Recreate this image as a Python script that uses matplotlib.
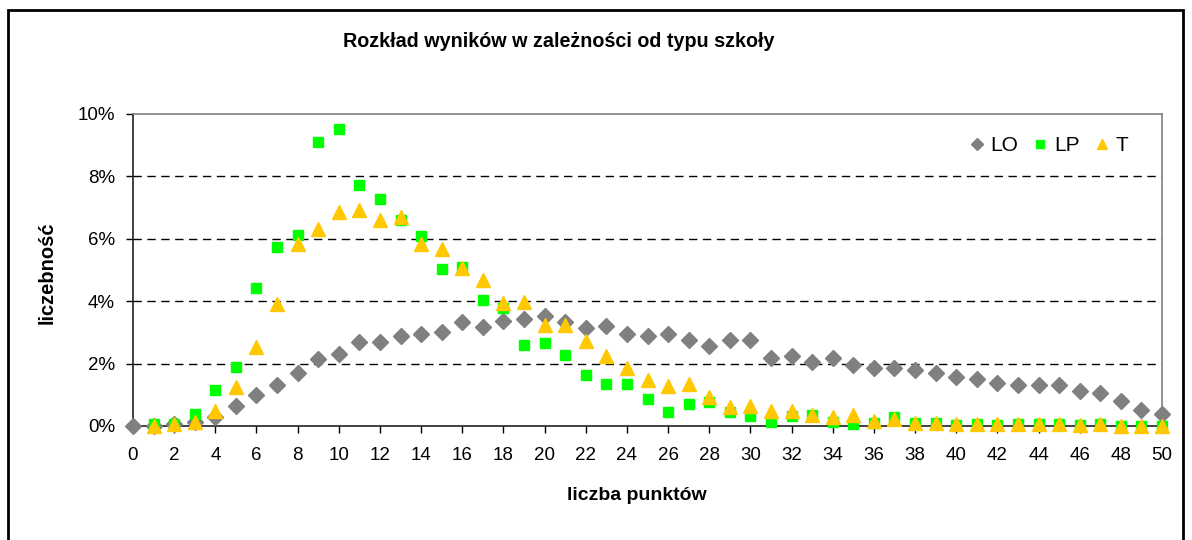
import matplotlib.pyplot as plt
from matplotlib.patches import Rectangle
from matplotlib.ticker import FuncFormatter
import numpy as np

plt.rcParams['font.family'] = ['Liberation Sans', 'DejaVu Sans']

# punkty 0..50, wartosci w %
pkt = list(range(0, 51))
LO = [0.0, 0.0, 0.05, 0.14, 0.30, 0.64, 1.00, 1.31, 1.69, 2.14, 2.31,
      2.70, 2.68, 2.87, 2.94, 3.00, 3.32, 3.18, 3.37, 3.44, 3.53,
      3.34, 3.13, 3.19, 2.94, 2.88, 2.94, 2.75, 2.56, 2.75, 2.75,
      2.19, 2.25, 2.06, 2.19, 1.94, 1.87, 1.87, 1.79, 1.69, 1.58,
      1.50, 1.37, 1.30, 1.33, 1.31, 1.12, 1.07, 0.81, 0.51, 0.38]
pkt_lp = list(range(1, 51))
LP = [0.06, 0.08, 0.40, 1.15, 1.90, 4.41, 5.73, 6.12, 9.10, 9.52,
      7.72, 7.27, 6.60, 6.09, 5.03, 5.10, 4.03, 3.78, 2.60, 2.65,
      2.27, 1.65, 1.35, 1.35, 0.85, 0.46, 0.72, 0.78, 0.46, 0.32,
      0.14, 0.33, 0.35, 0.14, 0.06, 0.10, 0.30, 0.10, 0.10, 0.03,
      0.08, 0.03, 0.08, 0.06, 0.05, 0.03, 0.05, 0.0, 0.0, 0.0]
T = [0.0, 0.05, 0.13, 0.49, 1.24, 2.54, 3.90, 5.82, 6.30, 6.87,
     6.92, 6.60, 6.70, 5.83, 5.66, 5.05, 4.68, 3.93, 3.97, 3.24,
     3.24, 2.73, 2.23, 1.85, 1.47, 1.28, 1.35, 0.92, 0.60, 0.65,
     0.48, 0.48, 0.35, 0.28, 0.35, 0.17, 0.23, 0.10, 0.10, 0.07,
     0.05, 0.05, 0.08, 0.06, 0.05, 0.02, 0.05, 0.0, 0.0, 0.0]

fig = plt.figure(figsize=(11.92, 5.40), dpi=100)
ax = fig.add_axes([133/1192, 1-426/540, (1162-133)/1192, (426-114)/540])

ax.plot(pkt, np.array(LO)/100, 'D', color='#808080', ms=8, mec='#808080', label='LO', clip_on=False, zorder=3)
ax.plot(pkt_lp, np.array(LP)/100, 's', color='#00FF00', ms=7.5, mec='#00FF00', label='LP', clip_on=False, zorder=4)
ax.plot(pkt_lp, np.array(T)/100, '^', color='#FFC800', ms=9.5, mec='#FFC800', label='T', clip_on=False, zorder=5)

ax.set_xlim(0, 50)
ax.set_ylim(0, 0.10)
ax.set_xticks(range(0, 51, 2))
ax.set_yticks(np.arange(0, 0.101, 0.02))
ax.yaxis.set_major_formatter(FuncFormatter(lambda v, p: '%d%%' % round(v*100)))
ax.tick_params(labelsize=13.5, direction='out', length=5, width=1, color='black')
ax.tick_params(axis='x', pad=10)
ax.tick_params(axis='y', pad=8)
for y in [0.02, 0.04, 0.06, 0.08]:
    ax.axhline(y, color='black', lw=1, ls=(0, (6, 4)), zorder=1)
ax.spines['left'].set_color('#202020')
ax.spines['bottom'].set_color('#202020')
ax.spines['top'].set_color('#808080')
ax.spines['right'].set_color('#808080')
for s in ax.spines.values():
    s.set_linewidth(1.2)

ax.legend(loc='upper right', ncol=3, frameon=False, fontsize=15, handletextpad=0.3,
          handlelength=0.7, columnspacing=0.7, markerscale=0.8,
          bbox_to_anchor=(0.985, 0.99))

fig.text(559/1192, 1-42/540, 'Rozkład wyników w zależności od typu szkoły',
         ha='center', va='center', fontsize=14.2, fontweight='bold')
fig.text(637/1192, 1-496/540, 'liczba punktów', ha='center', va='center',
         fontsize=14, fontweight='bold')
fig.text(47/1192, 1-273/540, 'liczebność', ha='center', va='center',
         rotation=90, fontsize=14.5, fontweight='bold')

fig.patches.append(Rectangle((8/1192, -0.1), (1183-8)/1192, 1.1-10/540,
                             transform=fig.transFigure, fill=False,
                             edgecolor='black', lw=2))

fig.savefig('out.png', dpi=100)
